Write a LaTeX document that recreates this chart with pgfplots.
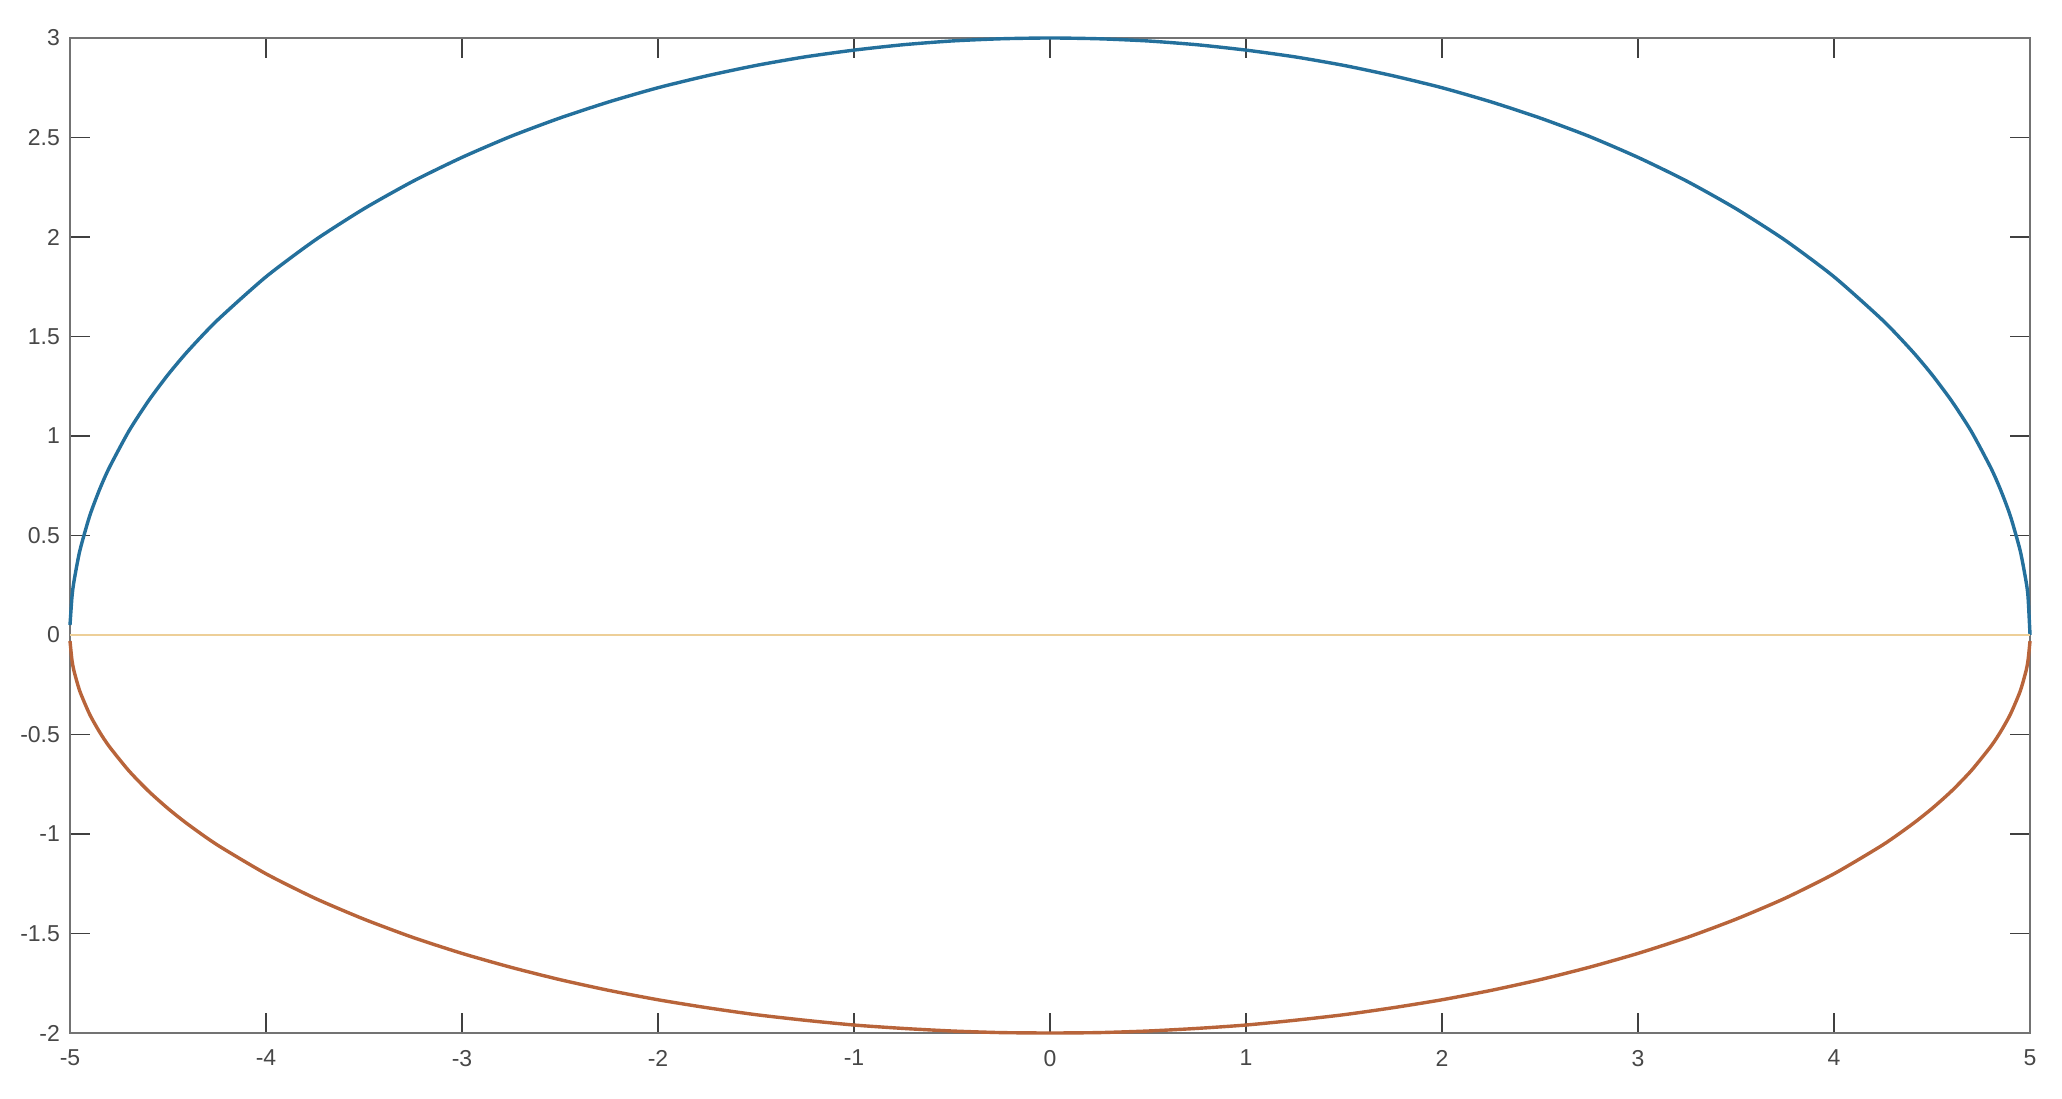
\documentclass[border=0pt]{standalone}
\usepackage{fontspec}
\setmainfont{Liberation Sans}
\usepackage{pgfplots}
\pgfplotsset{compat=1.18}

\definecolor{mblue}{HTML}{24709C}
\definecolor{morange}{HTML}{B8643A}
\definecolor{myellow}{HTML}{EDCF98}

\begin{document}
\begin{tikzpicture}
  \begin{axis}[
    name=ax,
    scale only axis,
    width=980pt,
    height=497.5pt,
    xmin=-5, xmax=5,
    ymin=-2, ymax=3,
    xtick={-5,-4,...,5},
    ytick={-2,-1.5,...,3},
    tick align=inside,
    major tick length=10pt,
    axis line style={black!55, line width=1.2pt},
    tick style={black!75, line width=0.9pt},
    tick label style={font=\fontsize{11.5}{13}\selectfont, text=black!72},
    xticklabel style={yshift=-5pt},
    yticklabel style={xshift=-1.5pt},
    /pgf/number format/assume math mode=true,
    /pgf/number format/fixed,
    clip=false,
  ]
    % upper half
    \addplot[mblue, line width=1.7pt, smooth, tension=0.4] coordinates {
      (-5,0.05) (-4.99,0.19) (-4.98,0.268) (-4.95,0.423) (-4.9,0.597) (-4.85,0.729)
      (-4.8,0.84) (-4.7,1.024) (-4.6,1.176) (-4.5,1.308) (-4.4,1.425) (-4.25,1.580)
      (-4,1.8) (-3.75,1.984) (-3.5,2.142) (-3.25,2.280) (-3,2.4) (-2.75,2.506)
      (-2.5,2.598) (-2.25,2.679) (-2,2.750) (-1.75,2.810) (-1.5,2.862) (-1.25,2.905)
      (-1,2.939) (-0.75,2.966) (-0.5,2.985) (-0.25,2.996) (0,3)
      (0.25,2.996) (0.5,2.985) (0.75,2.966) (1,2.939) (1.25,2.905) (1.5,2.862)
      (1.75,2.810) (2,2.750) (2.25,2.679) (2.5,2.598) (2.75,2.506) (3,2.4)
      (3.25,2.280) (3.5,2.142) (3.75,1.984) (4,1.8) (4.25,1.580) (4.4,1.425)
      (4.5,1.308) (4.6,1.176) (4.7,1.024) (4.8,0.84) (4.85,0.729) (4.9,0.597)
      (4.95,0.423) (4.98,0.268) (4.99,0.19) (5,0.0)
    };
    % lower half
    \addplot[morange, line width=1.7pt, smooth, tension=0.4] coordinates {
      (-5,-0.03) (-4.99,-0.126) (-4.98,-0.179) (-4.95,-0.282) (-4.9,-0.398) (-4.85,-0.486)
      (-4.8,-0.56) (-4.7,-0.682) (-4.6,-0.784) (-4.5,-0.872) (-4.4,-0.950) (-4.25,-1.054)
      (-4,-1.2) (-3.75,-1.323) (-3.5,-1.428) (-3.25,-1.520) (-3,-1.6) (-2.75,-1.670)
      (-2.5,-1.732) (-2.25,-1.786) (-2,-1.833) (-1.75,-1.873) (-1.5,-1.908) (-1.25,-1.936)
      (-1,-1.960) (-0.75,-1.977) (-0.5,-1.990) (-0.25,-1.998) (0,-2)
      (0.25,-1.998) (0.5,-1.990) (0.75,-1.977) (1,-1.960) (1.25,-1.936) (1.5,-1.908)
      (1.75,-1.873) (2,-1.833) (2.25,-1.786) (2.5,-1.732) (2.75,-1.670) (3,-1.6)
      (3.25,-1.520) (3.5,-1.428) (3.75,-1.323) (4,-1.2) (4.25,-1.054) (4.4,-0.950)
      (4.5,-0.872) (4.6,-0.784) (4.7,-0.682) (4.8,-0.56) (4.85,-0.486) (4.9,-0.398)
      (4.95,-0.282) (4.98,-0.179) (4.99,-0.126) (5,-0.03)
    };
    % axis of the ellipse
    \addplot[myellow, line width=1.4pt] coordinates {(-5,0) (5,0)};
  \end{axis}
  \path ([xshift=-35pt,yshift=-33pt]ax.south west) rectangle ([xshift=16pt,yshift=19pt]ax.north east);
\end{tikzpicture}
\end{document}
